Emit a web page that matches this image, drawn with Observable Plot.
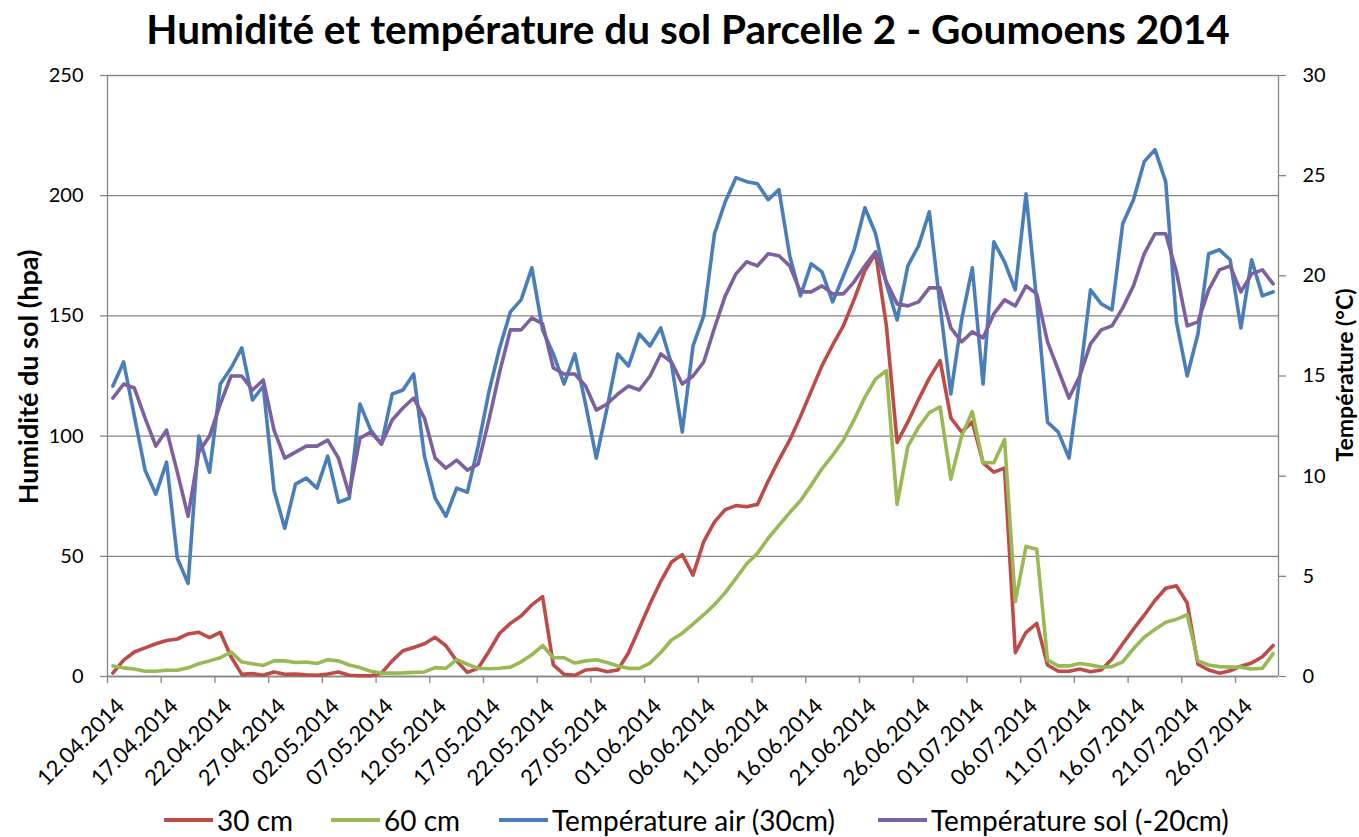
<!DOCTYPE html>
<html>
<head>
<meta charset="utf-8">
<script src="https://cdn.jsdelivr.net/npm/d3@7"></script>
<script src="https://cdn.jsdelivr.net/npm/@observablehq/plot@0.6"></script>
<style>
  html, body { margin: 0; padding: 0; background: #fff; }
  #wrap { position: relative; width: 1359px; height: 837px; font-family: Lato, "Open Sans", sans-serif; color: #000; overflow: hidden; }
  #chart { position: absolute; left: 0; top: 0; }
  .title { position: absolute; left: 688px; top: 9px; transform: translateX(-50%); font-weight: 700; font-size: 40.5px; line-height: 1; white-space: nowrap; }
  .ytitle { position: absolute; transform: translate(-50%, -50%) rotate(-90deg); font-weight: 700; line-height: 1; white-space: nowrap; }
  .legend { position: absolute; top: 820px; left: 0; width: 1359px; }
  .item { position: absolute; top: 0; transform: translateY(-50%); display: flex; align-items: center; font-size: 28px; line-height: 1; white-space: nowrap; }
  .sw { display: inline-block; width: 49px; height: 4px; margin-right: 4px; }
</style>
</head>
<body>
<div id="wrap">
  <div id="chart"></div>
  <div class="title">Humidité et température du sol Parcelle 2 - Goumoens 2014</div>
  <div class="ytitle" style="left:27px; top:377px; font-size:27px;">Humidité du sol (hpa)</div>
  <div class="ytitle" style="left:1344px; top:375px; font-size:23px;">Température (°C)</div>
  <div class="legend" id="legend"></div>
</div>
<script>
// ---- data (daily, 12.04.2014 .. 29.07.2014) ----
const seriesNames = ["30 cm", "60 cm", "Température air (30cm)", "Température sol (-20cm)"];
const seriesColors = ["#BE4B48", "#98B954", "#4A7EBB", "#7D60A0"];

const hum30 = [1.4,6.8,10.2,11.9,13.6,15.0,15.6,17.7,18.4,16.2,18.4,8.2,0.9,1.2,0.5,1.9,0.9,1.0,0.7,0.5,
  1.0,1.9,0.5,0.3,0.3,1.4,6.5,10.7,12.1,13.6,16.3,12.8,6.5,1.7,3.4,10.4,18.0,22.1,25.2,29.8,
  33.2,4.8,0.9,0.5,2.7,3.1,2.0,2.7,9.9,20.1,30.3,39.6,47.6,50.7,42.2,56.1,64.3,69.4,71.1,70.6,
  71.6,81.3,90.1,98.3,108.1,118.7,129.2,137.9,145.9,156.9,168.8,176.1,145.9,97.4,105.9,115.3,124.1,131.4,107.6,101.7,
  105.9,88.9,85.0,86.7,9.9,18.4,22.1,4.8,2.2,2.2,3.1,2.0,2.7,7.3,13.6,19.7,25.5,31.6,36.7,37.7,
  30.6,5.1,2.7,1.4,2.4,4.3,5.6,8.2,12.9];

const hum60 = [4.4,3.6,3.1,2.2,2.2,2.6,2.6,3.6,5.3,6.5,7.8,10.2,6.0,5.3,4.6,6.5,6.5,5.8,6.0,5.4,
  7.0,6.5,4.8,3.7,2.2,1.4,1.4,1.5,1.7,1.9,3.7,3.4,7.0,5.1,3.4,3.2,3.4,3.9,6.1,9.0,
  12.9,7.8,7.8,5.6,6.5,7.0,5.8,4.4,3.4,3.4,5.6,10.0,15.2,18.0,21.8,25.7,29.9,34.9,40.8,46.9,
  51.2,57.5,62.9,68.2,73.1,79.6,86.4,92.0,98.3,106.8,116.1,123.8,127.2,71.6,95.7,103.7,109.8,112.2,82.1,100.0,
  110.2,88.9,88.9,98.6,31.1,54.1,52.9,6.8,4.4,4.4,5.4,4.8,3.9,4.1,6.1,11.6,16.3,19.6,22.6,23.8,
  25.7,6.5,4.8,4.1,3.9,3.9,3.1,3.4,9.5];

const tempAir = [14.5,15.7,13.0,10.3,9.1,10.7,5.9,4.65,12.0,10.2,14.6,15.4,16.4,13.8,14.5,9.3,7.4,9.6,9.9,9.4,
  11.0,8.7,8.9,13.6,12.3,11.6,14.1,14.3,15.1,11.0,8.9,8.0,9.4,9.2,11.5,14.2,16.4,18.2,18.8,20.4,
  17.3,16.1,14.6,16.1,13.6,10.9,13.4,16.1,15.5,17.1,16.5,17.4,15.6,12.2,16.5,18.0,22.1,23.7,24.9,24.7,
  24.6,23.8,24.3,21.0,19.0,20.6,20.2,18.7,20.0,21.3,23.4,22.1,19.6,17.8,20.5,21.5,23.2,18.5,14.1,17.8,
  20.4,14.6,21.7,20.7,19.3,24.1,18.7,12.7,12.2,10.9,14.9,19.3,18.6,18.3,22.6,23.8,25.7,26.3,24.7,17.7,
  15.0,17.1,21.1,21.3,20.8,17.4,20.8,19.0,19.2];

const tempSol = [13.9,14.6,14.4,12.9,11.5,12.3,10.2,8.0,11.2,12.0,13.6,15.0,15.0,14.3,14.8,12.3,10.9,11.2,11.5,11.5,
  11.8,10.9,9.1,11.9,12.2,11.6,12.8,13.4,13.9,12.9,10.9,10.4,10.8,10.3,10.6,12.8,15.2,17.3,17.3,17.9,
  17.6,15.4,15.1,15.1,14.5,13.3,13.6,14.1,14.5,14.3,15.0,16.1,15.7,14.6,15.0,15.7,17.4,19.0,20.1,20.7,
  20.5,21.1,21.0,20.5,19.2,19.2,19.5,19.1,19.1,19.7,20.5,21.2,19.7,18.6,18.5,18.7,19.4,19.4,17.4,16.7,
  17.2,16.9,18.1,18.8,18.5,19.5,19.1,16.7,15.3,13.9,15.0,16.6,17.3,17.5,18.4,19.5,21.1,22.1,22.1,20.2,
  17.5,17.7,19.3,20.3,20.5,19.2,20.1,20.3,19.6];

const dateLabels = ["12.04.2014","17.04.2014","22.04.2014","27.04.2014","02.05.2014","07.05.2014",
  "12.05.2014","17.05.2014","22.05.2014","27.05.2014","01.06.2014","06.06.2014","11.06.2014",
  "16.06.2014","21.06.2014","26.06.2014","01.07.2014","06.07.2014","11.07.2014","16.07.2014",
  "21.07.2014","26.07.2014"];
const humTicks = [0, 50, 100, 150, 200, 250];
const tempTicks = [0, 5, 10, 15, 20, 25, 30];
const humMax = 250, tempMax = 30;

// ---- build ----
const n = hum30.length;
const k = humMax / tempMax; // secondary axis mapping
const rows = [];
[hum30, hum60].forEach((arr, s) => arr.forEach((v, i) => rows.push({i, y: v, s})));
[tempAir, tempSol].forEach((arr, s) => arr.forEach((v, i) => rows.push({i, y: v * k, s: s + 2})));

const labelIdx = dateLabels.map((d, j) => j * 5);
const boundaries = d3.range(0, n + 1, 5).map(b => b - 0.5);
const gray = "#868686";

const chart = Plot.plot({
  width: 1359, height: 837,
  marginLeft: 107, marginRight: 81, marginTop: 75, marginBottom: 161,
  style: {fontFamily: "Lato, 'Open Sans', sans-serif", fontSize: "20px", color: "#000", background: "transparent"},
  x: {type: "linear", domain: [-0.5, n - 0.5]},
  y: {domain: [0, humMax]},
  marks: [
    Plot.gridY(humTicks, {stroke: gray, strokeOpacity: 1, strokeWidth: 1.3}),
    Plot.ruleX([-0.5, n - 0.5], {stroke: gray, strokeWidth: 1.3}),
    Plot.ruleY([0], {stroke: gray, strokeWidth: 1.3}),
    Plot.axisY({ticks: humTicks, tickSize: 7, tickPadding: 17, stroke: gray, strokeWidth: 1.3, fontSize: 20, label: null}),
    Plot.axisY({anchor: "right", ticks: tempTicks.map(t => t * k), tickFormat: d => String(Math.round(d / k)),
      tickSize: 7, tickPadding: 17, stroke: gray, strokeWidth: 1.3, fontSize: 20, label: null}),
    Plot.axisX({ticks: boundaries, tickFormat: () => "", tickSize: 7, stroke: gray, strokeWidth: 1.3, label: null}),
    Plot.axisX({ticks: labelIdx, tickSize: 0, tickPadding: 14, dx: 8, dy: 12, tickRotate: -45, fontSize: 22,
      tickFormat: d => dateLabels[Math.round(d / 5)], label: null}),
    ...[0, 1, 2, 3].map(s => Plot.line(rows.filter(r => r.s === s), {
      x: "i", y: "y", stroke: seriesColors[s], strokeWidth: 3.6, strokeLinejoin: "round", strokeLinecap: "round"
    }))
  ]
});
document.getElementById("chart").appendChild(chart);

// legend
const legendX = [164, 331, 499, 878];
const leg = document.getElementById("legend");
seriesNames.forEach((name, s) => {
  const it = document.createElement("div");
  it.className = "item";
  it.style.left = legendX[s] + "px";
  const sw = document.createElement("span");
  sw.className = "sw";
  sw.style.background = seriesColors[s];
  it.appendChild(sw);
  it.appendChild(document.createTextNode(name));
  leg.appendChild(it);
});
</script>
</body>
</html>
